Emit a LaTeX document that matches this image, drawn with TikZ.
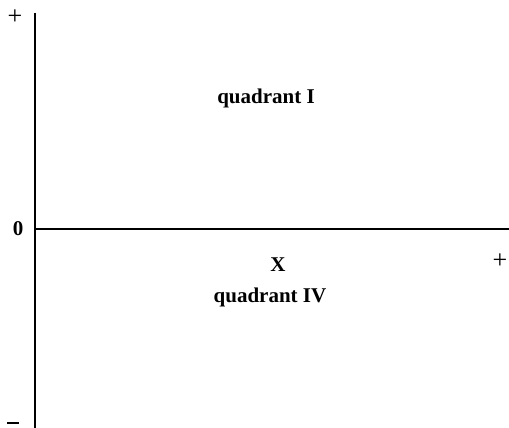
\documentclass[tikz,border=0pt]{standalone}
\usepackage{fontspec}
\setmainfont{Liberation Serif}
\usetikzlibrary{positioning}

\begin{document}
\begin{tikzpicture}[x=1pt, y=-1pt, font=\fontsize{21}{24}\selectfont\bfseries,
    axis/.style={line width=2.2pt, black},
    sign/.style={font=\fontsize{26}{28}\selectfont, inner sep=0pt}]
        \useasboundingbox (0,0) rectangle (509,428);

        % axes
        \coordinate (ytop) at (35,13);
        \coordinate (ybot) at (35,428);
        \coordinate (origin) at (35,229);
        \coordinate (xend) at (509,229);
        \draw[axis] (ytop) -- (ybot);
        \draw[line width=1.8pt] (origin) -- (xend);

        % signs on the axes
        \node[sign] (yplus) at (15,17) {+};
        \node[inner sep=0pt] (zero) at (18,229) {0};
        \node[inner sep=0pt, minimum width=12pt, minimum height=2.4pt, fill=black] (yminus) at (13,423) {};
        \node[sign] (xplus) at (500,261) {+};

        % labels
        \node (xlabel) at (278,265) {X};
        \node (qone) at (266,98) {quadrant I};
        \node (qfour) at (270,297) {quadrant IV};
      \end{tikzpicture}
\end{document}
